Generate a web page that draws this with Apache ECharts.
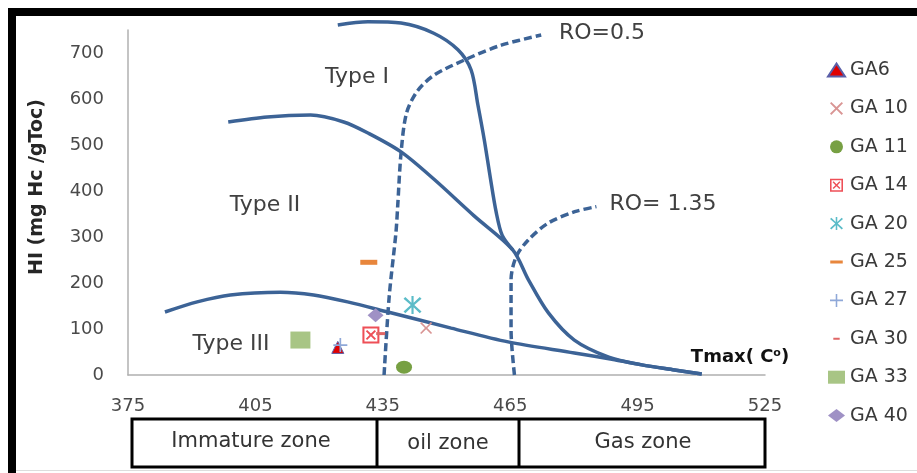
<!DOCTYPE html>
<html lang="en">
<head>
<meta charset="UTF-8">
<script src="https://cdn.jsdelivr.net/npm/echarts/dist/echarts.min.js"></script>
<title>HI vs Tmax</title>
<style>
    html, body { margin: 0; padding: 0; background: #fff; }
    #chart { width: 917px; height: 473px; }
</style>
</head>
<body>
<div id="chart"></div>
<script>
// kerogen type curves (Tmax, HI)
const typeICurve = [[424.4,761],[431.5,768],[439.3,765],[447,743],[452.7,707],[455.8,663],[457.4,587],[458.9,511],[460.3,430],[461.7,354],[463.1,304],[465.6,272]];
const typeIICurve = [[398.6,550],[407.8,561],[418,565],[425.8,550],[431.5,526],[439.3,485],[447,426],[456.5,346],[465.6,272],[469.3,207],[474,135],[480.1,76],[488.2,39],[496,22],[503.7,11],[510.1,2]];
const typeIIICurve = [[383.7,137],[391.3,159],[399.1,174],[410.9,180],[418.7,174],[426.7,159],[436.2,137],[451.1,102],[464.5,72],[480.1,48],[489.6,33],[496,22],[503.7,11],[510.1,2]];
// vitrinite reflectance lines
const ro05Curve = [[435.3,0],[436.5,170],[438.1,310],[438.5,366],[439.3,483],[440.6,570],[443.2,618],[447.1,652],[455,688],[462.9,717],[472.3,739]];
const ro135Curve = [[466,0],[465.2,98],[465.2,207],[466.4,257],[469.2,293],[473.9,330],[480.2,355],[485.3,366]];

// samples
const sampleNames = ['GA6', 'GA 10', 'GA 11', 'GA 14', 'GA 20', 'GA 25', 'GA 27', 'GA 30', 'GA 33', 'GA 40'];
const sampleValues = [
    [424.4, 60],
    [445.2, 102],
    [440, 17],
    [432.2, 87],
    [442, 152],
    [431.7, 245],
    [425, 65],
    [434.5, 90],
    [415.6, 76],
    [433.3, 130]
];
const yTicks = [0, 100, 200, 300, 400, 500, 600, 700];

const lineColor = '#3c6396';
const font = 'DejaVu Sans';

const xPath = 'path://M0,1 L1,0 L5,4 L9,0 L10,1 L6,5 L10,9 L9,10 L5,6 L1,10 L0,9 L4,5 Z';
const plusPath = 'path://M4.4,0 H5.6 V4.4 H10 V5.6 H5.6 V10 H4.4 V5.6 H0 V4.4 H4.4 Z';
const starPath = 'path://M0,1.5 L1,0.5 L5,4.3 L9,0.5 L10,1.5 L6,5 L10,8.5 L9,9.5 L5,5.7 L1,9.5 L0,8.5 L4,5 Z M4.4,0 H5.6 V10 H4.4 Z';
const boxXPath = 'path://M0,0 H10 V10 H0 Z M1.2,1.2 V8.8 H8.8 V1.2 Z M2,2.8 L2.8,2 L5,4.2 L7.2,2 L8,2.8 L5.8,5 L8,7.2 L7.2,8 L5,5.8 L2.8,8 L2,7.2 L4.2,5 Z';
const dashPath = 'path://M0,0 H10 V2.2 H0 Z';
// legend icons for the dashes, padded so they stay short
const dashIcon = 'path://M0,-4 L0.01,-4 Z M0,0 H10 V2.4 H0 Z M0,6.4 L0.01,6.4 Z';
const shortDashIcon = 'path://M-3,-4 L-2.99,-4 Z M2,0 H8 V2 H2 Z M13,6 L13.01,6 Z';

const sampleStyles = [
    { symbol: 'triangle', size: 12, color: '#e00000', border: '#5a5fa8' },
    { symbol: xPath, size: 12, color: '#d99594' },
    { symbol: 'circle', size: [16, 13], color: '#77a043' },
    { symbol: boxXPath, size: 17, color: '#ee4f57' },
    { symbol: starPath, size: 18, color: '#5bbcc8' },
    { symbol: dashPath, size: [17, 5], color: '#e8863c', icon: dashIcon },
    { symbol: plusPath, size: 14, color: '#8fa8d8' },
    { symbol: dashPath, size: [9, 3], color: '#e06666', icon: shortDashIcon },
    { symbol: 'rect', size: [20, 17], color: '#a8c585' },
    { symbol: 'diamond', size: [16, 14], color: '#9f91c5' }
];

function curve(data, dashed) {
    return {
        type: 'line',
        data: data,
        smooth: 0.3,
        showSymbol: false,
        clip: false,
        silent: true,
        lineStyle: { color: lineColor, width: 3.5, type: dashed ? [8, 4] : 'solid' },
        z: 1
    };
}

const series = [
    curve(typeICurve, false),
    curve(typeIICurve, false),
    curve(typeIIICurve, false),
    curve(ro05Curve, true),
    curve(ro135Curve, true)
];

const legendData = [];
sampleNames.forEach(function (name, i) {
    const st = sampleStyles[i];
    series.push({
        name: name,
        type: 'scatter',
        data: [sampleValues[i]],
        symbol: st.symbol,
        symbolSize: st.size,
        itemStyle: {
            color: st.color,
            borderColor: st.border || st.color,
            borderWidth: st.border ? 1 : 0,
            opacity: 1
        },
        z: 3
    });
    legendData.push(st.icon ? { name: name, icon: st.icon } : { name: name });
});

function label(text, x, y, size, color, weight) {
    return {
        type: 'text',
        x: x,
        y: y,
        style: {
            text: text,
            align: 'center',
            verticalAlign: 'middle',
            fontFamily: font,
            fontSize: size,
            fontWeight: weight || 'normal',
            fill: color || '#404040'
        }
    };
}

const chart = echarts.init(document.getElementById('chart'));

const options = {
    backgroundColor: '#fff',
    animation: false,
    grid: { left: 128, right: 152, top: 30, bottom: 98 },
    xAxis: {
        type: 'value',
        min: 375,
        max: 525,
        interval: 30,
        axisLine: { show: true, lineStyle: { color: '#b0b0b0', width: 1.5 } },
        axisTick: { show: false },
        splitLine: { show: false },
        axisLabel: {
            margin: 22,
            fontFamily: font,
            fontSize: 18,
            color: '#4a4a4a'
        }
    },
    yAxis: {
        type: 'value',
        min: 0,
        max: 750,
        interval: 100,
        axisLine: { show: true, lineStyle: { color: '#b0b0b0', width: 1.5 } },
        axisTick: { show: false },
        splitLine: { show: false },
        axisLabel: {
            margin: 24,
            fontFamily: font,
            fontSize: 18,
            color: '#4a4a4a',
            formatter: function (v) { return yTicks.indexOf(v) >= 0 ? String(v) : ''; }
        }
    },
    legend: {
        orient: 'vertical',
        left: 822,
        top: 55,
        itemWidth: 17,
        itemHeight: 13,
        itemGap: 18.4,
        data: legendData,
        textStyle: { fontFamily: font, fontSize: 19, color: '#3a3a3a', lineHeight: 20 }
    },
    graphic: [
        { type: 'rect', shape: { x: 8, y: 8, width: 909, height: 8 }, style: { fill: '#000' } },
        { type: 'rect', shape: { x: 8, y: 8, width: 8, height: 465 }, style: { fill: '#000' } },
        { type: 'rect', shape: { x: 16, y: 470, width: 901, height: 1 }, style: { fill: '#dddddd' } },
        // zone boxes under the axis
        { type: 'rect', shape: { x: 132, y: 419, width: 633, height: 48 }, style: { fill: 'none', stroke: '#000', lineWidth: 3 } },
        { type: 'line', shape: { x1: 377, y1: 419, x2: 377, y2: 467 }, style: { stroke: '#000', lineWidth: 3 } },
        { type: 'line', shape: { x1: 519, y1: 419, x2: 519, y2: 467 }, style: { stroke: '#000', lineWidth: 3 } },
        label('Immature zone', 251, 442, 21, '#333'),
        label('oil zone', 448, 444, 21, '#333'),
        label('Gas zone', 643, 443, 21, '#333'),
        label('Type I', 357, 77, 22),
        label('Type II', 265, 205, 22),
        label('Type III', 231, 344, 22),
        label('RO=0.5', 602, 33, 22),
        label('RO= 1.35', 663, 204, 22),
        {
            type: 'text',
            x: 37,
            y: 187,
            rotation: Math.PI / 2,
            style: {
                text: 'HI (mg Hc /gToc)',
                align: 'center',
                verticalAlign: 'middle',
                fontFamily: font,
                fontSize: 19,
                fontWeight: 'bold',
                fill: '#262626'
            }
        },
        {
            type: 'text',
            x: 740,
            y: 357,
            style: {
                text: 'Tmax( C{sup|o})',
                align: 'center',
                verticalAlign: 'middle',
                fontFamily: font,
                fontSize: 18,
                fontWeight: 'bold',
                fill: '#111',
                rich: {
                    sup: { fontSize: 11, fontWeight: 'bold', fontFamily: font, fill: '#111', verticalAlign: 'top', padding: [0, 0, 8, 0] }
                }
            }
        }
    ],
    series: series
};

chart.setOption(options);
</script>
</body>
</html>
